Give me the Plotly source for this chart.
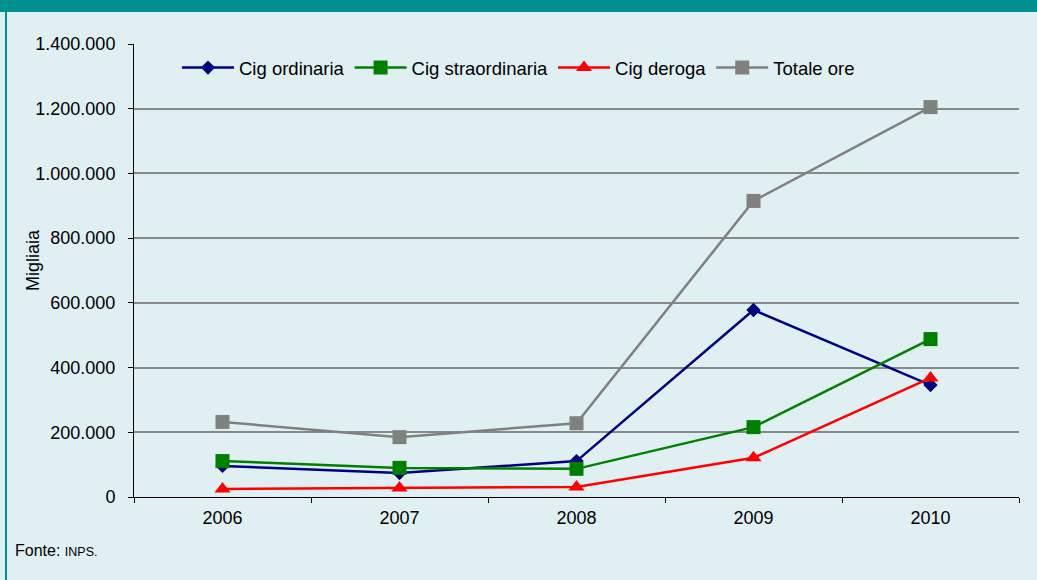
import plotly.graph_objects as go

years = ["2006", "2007", "2008", "2009", "2010"]
cig_ordinaria = [96000, 74000, 111000, 578000, 346000]
cig_straordinaria = [111000, 90000, 87000, 216000, 488000]
cig_deroga = [25000, 28000, 31000, 121000, 368000]
totale_ore = [232000, 185000, 228000, 915000, 1205000]

BG = "#DFEFF2"
TEAL = "#00908F"
FONT = "Liberation Sans, Arial, sans-serif"

fig = go.Figure()
series = [
    ("Cig ordinaria", cig_ordinaria, "#000080", "diamond", 11),
    ("Cig straordinaria", cig_straordinaria, "#008000", "square", 14),
    ("Cig deroga", cig_deroga, "#FF0000", "triangle-up", 14),
    ("Totale ore", totale_ore, "#808080", "square", 14),
]
for name, vals, col, sym, sz in series:
    fig.add_trace(go.Scatter(
        x=years, y=vals, name=name, mode="lines+markers",
        line=dict(color=col, width=2.5),
        marker=dict(symbol=sym, size=sz, color=col),
    ))

W, H = 1037, 580
L, R, T, B = 134, 1019, 44, 497
pw, ph = R - L, B - T

def px(x):
    return (x - L) / pw

def py(y):
    return (B - y) / ph

fig.update_layout(
    width=W, height=H,
    margin=dict(l=L, r=W - R, t=T, b=H - B, pad=0),
    paper_bgcolor=BG, plot_bgcolor=BG,
    font=dict(family=FONT, size=18, color="#000000"),
    separators=",.",
    showlegend=True,
    legend=dict(
        orientation="h", x=px(177), y=py(68), xanchor="left", yanchor="middle",
        bgcolor="rgba(0,0,0,0)", font=dict(size=18.5), itemwidth=52,
        traceorder="normal",
    ),
    xaxis=dict(
        type="category", range=[-0.5, 4.5], showgrid=False,
        showline=True, linecolor="#000000", linewidth=1,
        ticks="outside", ticklen=5, tickcolor="#000000", tickson="boundaries",
        tickfont=dict(size=18), zeroline=False, ticklabelstandoff=4,
    ),
    yaxis=dict(
        range=[0, 1400000], tickvals=[0, 200000, 400000, 600000, 800000, 1000000, 1200000, 1400000],
        tickformat=",d",
        showgrid=True, gridcolor="#888888", gridwidth=2,
        showline=True, linecolor="#000000", linewidth=1,
        ticks="outside", ticklen=5, tickcolor="#000000",
        tickfont=dict(size=18), zeroline=False, ticklabelstandoff=9,
    ),
    shapes=[
        dict(type="rect", xref="paper", yref="paper",
             x0=px(-2), x1=px(W + 2), y0=py(12), y1=py(-2),
             fillcolor=TEAL, line=dict(width=0), layer="above"),
        dict(type="line", xref="paper", yref="paper",
             x0=px(6), x1=px(6), y0=py(12), y1=py(H + 2),
             line=dict(color=TEAL, width=2), layer="above"),
    ],
    annotations=[
        dict(text="Migliaia", textangle=-90,
             xref="paper", yref="paper", x=px(33), y=py(260),
             xanchor="center", yanchor="middle", showarrow=False,
             font=dict(size=18, family=FONT)),
        dict(text="Fonte: <span style='font-size:12.5px'>INPS.</span>",
             xref="paper", yref="paper", x=px(13), y=py(550),
             xanchor="left", yanchor="middle", showarrow=False,
             font=dict(size=16, family=FONT)),
    ],
)

fig.write_html("out.html", config={"displayModeBar": False},
               post_script="document.body.style.margin='0';document.body.style.padding='0';")
